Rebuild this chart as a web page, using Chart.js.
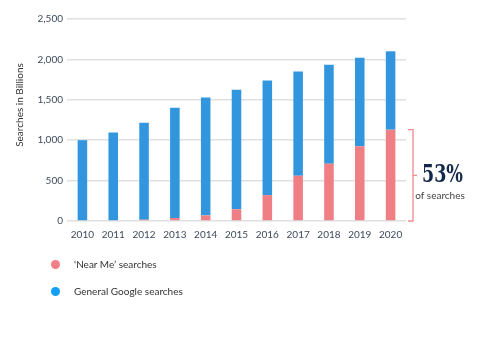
<!DOCTYPE html>
<html>
<head>
<meta charset="utf-8">
<script src="https://cdn.jsdelivr.net/npm/chart.js@4/dist/chart.umd.min.js"></script>
<style>
  html, body { margin: 0; padding: 0; background: #fff; }
  #wrap { position: relative; width: 485px; height: 350px; }
  canvas { position: absolute; left: 0; top: 0; }
  .leg { position: absolute; font: 10px Lato, sans-serif; color: #333; white-space: nowrap; }
  .dot { position: absolute; width: 9px; height: 9px; border-radius: 50%; }
</style>
</head>
<body>
<div id="wrap">
  <canvas id="c" width="485" height="350"></canvas>
  <div class="dot" style="left:51px;top:260px;background:#f07f86"></div>
  <div class="leg" style="left:74px;top:258px">‘Near Me’ searches</div>
  <div class="dot" style="left:51px;top:287px;background:#12a0f7"></div>
  <div class="leg" style="left:74px;top:285px">General Google searches</div>
</div>
<script>
const years = ['2010','2011','2012','2013','2014','2015','2016','2017','2018','2019','2020'];
const nearMe = [0, 0, 16, 37, 70, 145, 320, 560, 710, 925, 1130];
const general = [1000, 1095, 1200, 1365, 1460, 1480, 1420, 1290, 1225, 1095, 970];
const seriesNames = ['‘Near Me’ searches', 'General Google searches'];
const yTitle = 'Searches in Billions';
const calloutBig = '53%';
const calloutSmall = 'of searches';

const annot = {
  id: 'annot',
  afterDraw(chart) {
    const ctx = chart.ctx;
    const y = chart.scales.y;
    const ca = chart.chartArea;
    // y axis title
    ctx.save();
    ctx.translate(20, 105);
    ctx.rotate(-Math.PI / 2);
    ctx.font = '10px Lato, sans-serif';
    ctx.fillStyle = '#333';
    ctx.textAlign = 'center';
    ctx.textBaseline = 'middle';
    ctx.fillText(yTitle, 0, 0);
    ctx.restore();
    // bracket
    const top = y.getPixelForValue(nearMe[nearMe.length - 1]);
    const bot = y.getPixelForValue(0);
    const bx = ca.right + 7;
    ctx.save();
    ctx.strokeStyle = '#f08a8f';
    ctx.lineWidth = 1.3;
    ctx.beginPath();
    ctx.moveTo(bx - 5, top); ctx.lineTo(bx, top); ctx.lineTo(bx, bot); ctx.lineTo(bx - 5, bot);
    const mid = (top + bot) / 2;
    ctx.moveTo(bx, mid); ctx.lineTo(bx + 4, mid);
    ctx.stroke();
    // text
    ctx.fillStyle = '#14284a';
    ctx.font = 'bold 25px "DejaVu Serif", serif';
    ctx.textBaseline = 'alphabetic';
    ctx.textAlign = 'left';
    const w = ctx.measureText(calloutBig).width;
    ctx.translate(bx + 9, 182);
    ctx.scale(41 / w, 1);
    ctx.fillText(calloutBig, 0, 0);
    ctx.restore();
    ctx.save();
    ctx.fillStyle = '#444';
    ctx.font = '10px Lato, sans-serif';
    ctx.textAlign = 'center';
    ctx.textBaseline = 'middle';
    ctx.fillText(calloutSmall, bx + 27, 196);
    ctx.restore();
  }
};

new Chart(document.getElementById('c'), {
  type: 'bar',
  data: {
    labels: years,
    datasets: [
      { label: seriesNames[0], data: nearMe, backgroundColor: '#ef7f84', borderWidth: 0 },
      { label: seriesNames[1], data: general, backgroundColor: '#3196dd', borderWidth: 0 }
    ]
  },
  options: {
    responsive: false,
    animation: false,
    devicePixelRatio: 1,
    layout: { padding: { left: 0, right: 79, top: 19, bottom: 104 } },
    plugins: { legend: { display: false }, tooltip: { enabled: false } },
    datasets: { bar: { categoryPercentage: 1, barPercentage: 0.31 } },
    scales: {
      x: {
        stacked: true,
        grid: { display: false, drawTicks: false },
        border: { display: false },
        ticks: { padding: 8, color: '#3d4a5c', font: { family: 'Lato', size: 10 } },
        afterFit(s) { s.height = 25; }
      },
      y: {
        stacked: true,
        min: 0, max: 2500,
        grid: { color: '#e0e0e0', lineWidth: 1.5, drawTicks: false },
        border: { display: false },
        ticks: { stepSize: 500, padding: 4, color: '#3d4a5c', font: { family: 'Lato', size: 10 } },
        afterFit(s) { s.width = 67; }
      }
    }
  },
  plugins: [annot]
});
</script>
</body>
</html>
